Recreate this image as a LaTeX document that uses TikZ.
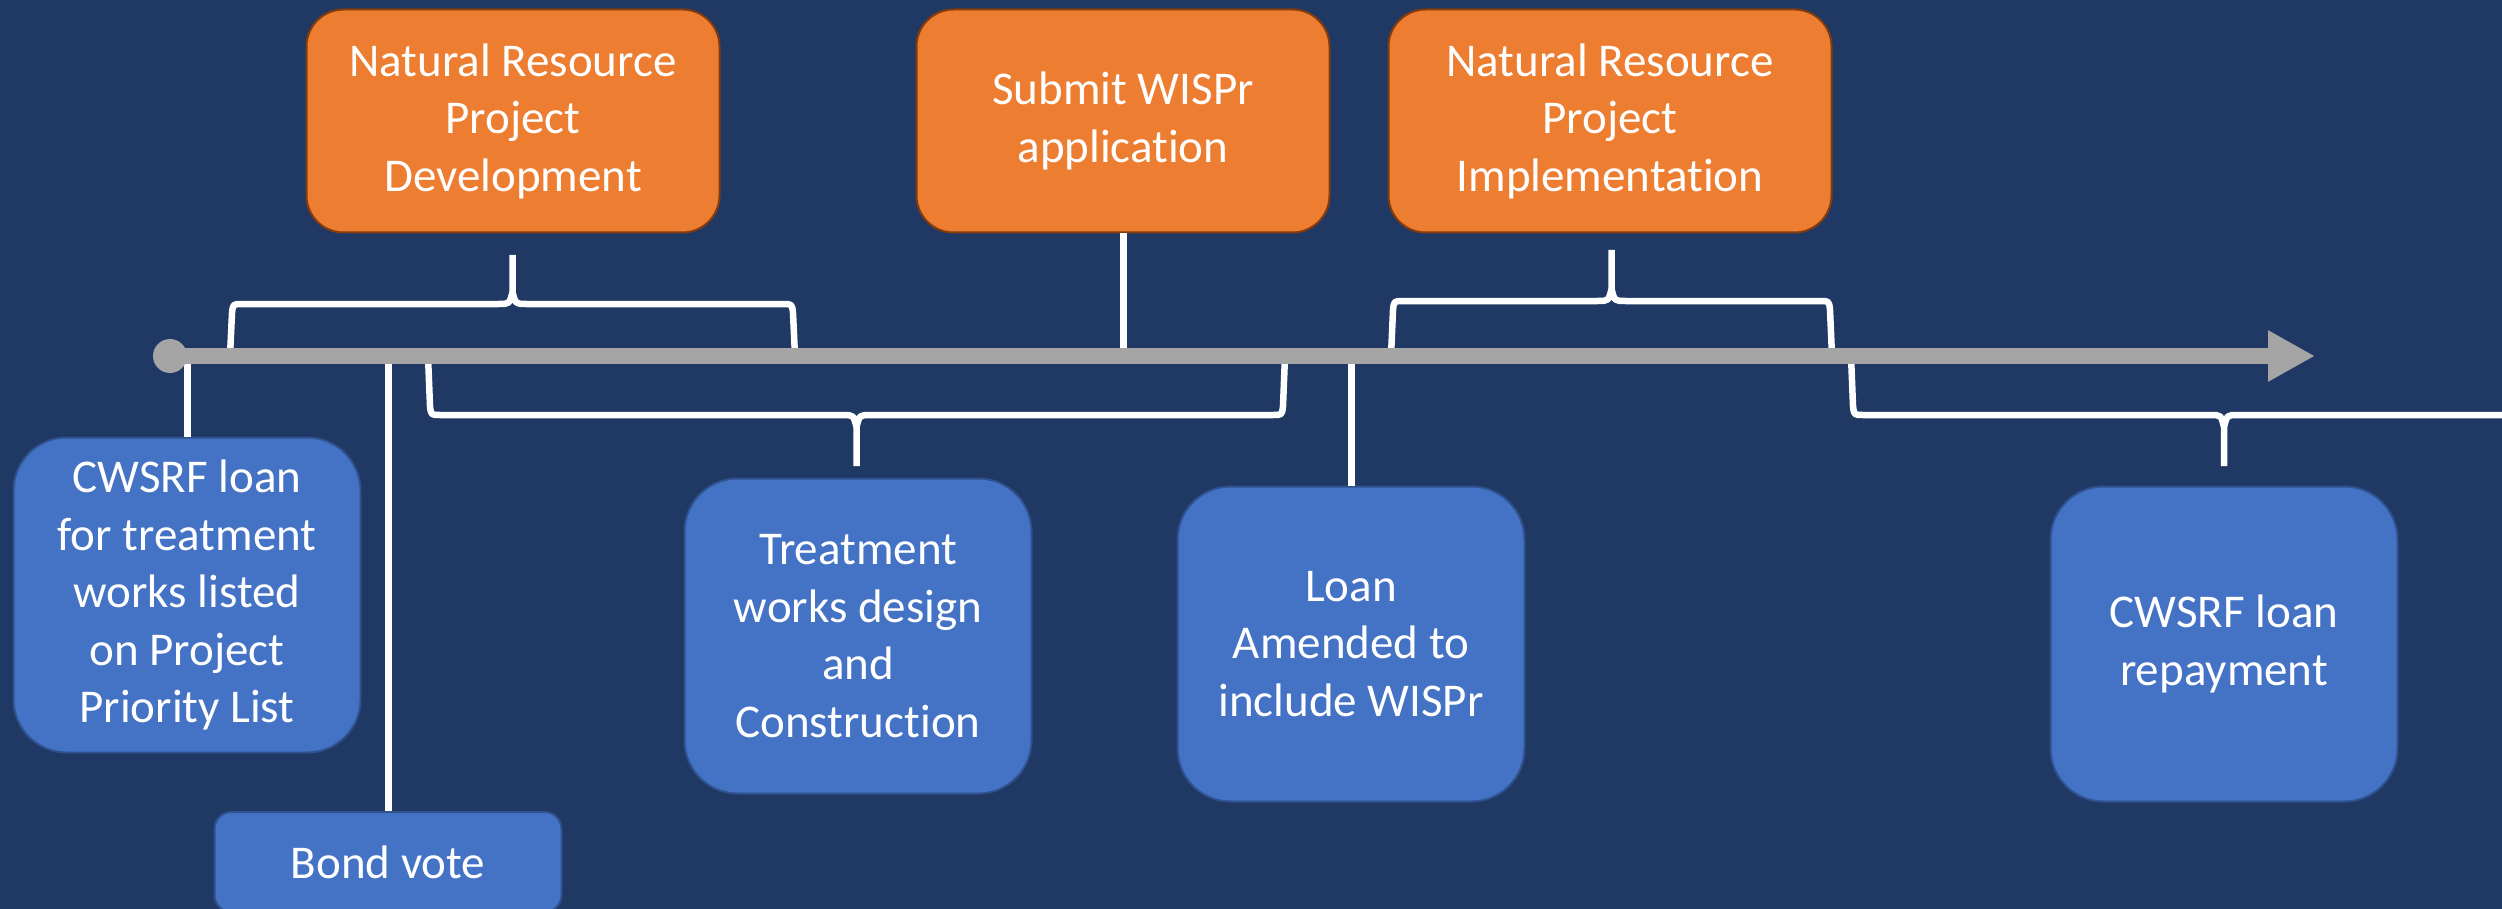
\documentclass[tikz,border=0pt]{standalone}
\usepackage{fontspec}
\setmainfont[Ligatures=NoCommon]{Carlito}
\usetikzlibrary{calc,arrows.meta}
\definecolor{navybg}{HTML}{203864}
\definecolor{railgray}{HTML}{A5A5A5}
\definecolor{phaseorange}{HTML}{ED7D31}
\definecolor{phaseedge}{HTML}{843C0C}
\definecolor{stepblue}{HTML}{4472C4}
\definecolor{stepedge}{HTML}{2F528F}
\tikzset{
	phase/.style={draw=phaseedge, line width=2pt, fill=phaseorange, text=white, rounded corners=37pt,
		minimum width=413pt, minimum height=223pt, inner sep=0pt, align=center, font=\fontsize{47}{57.5}\selectfont},
	event/.style={draw=stepedge, line width=2pt, fill=stepblue, text=white, rounded corners=53pt,
		minimum width=347pt, minimum height=315pt, inner sep=0pt, align=center, font=\fontsize{47}{57.5}\selectfont},
	link/.style={white, line width=7pt},
	brace line/.style={white, line width=6.5pt, line join=round},
}
\def\timebrace(#1:#2)(#3:#4:#5){%
	\pgfmathsetmacro\bmid{(#1+#2)/2}
	\pgfmathsetmacro\bdir{sign(#3-#4)}
	\draw[brace line] (#1,#3) -- ({#1+2},{#4+9*\bdir}) .. controls ({#1+3},#4) .. ({#1+12},#4)
		-- ({\bmid-14},#4) .. controls ({\bmid-3},#4) .. (\bmid,{#4-12*\bdir}) -- (\bmid,#5)
		(#2,#3) -- ({#2-2},{#4+9*\bdir}) .. controls ({#2-3},#4) .. ({#2-12},#4)
		-- ({\bmid+14},#4) .. controls ({\bmid+3},#4) .. (\bmid,{#4-12*\bdir});
}

\begin{document}
\begin{tikzpicture}[x=1pt, y=-1pt]
		%%%%% START %%%%%
		
		\path[use as bounding box, fill=navybg] (0,0) rectangle (2502,909);
		\clip (0,0) rectangle (2502,909);
		
		\coordinate (rail) at (0,356);
		
		% phases above the line
		\node[phase] (nrdev) at (513,121) {Natural Resource\\Project\\Development};
		\node[phase] (wispr) at (1123,121) {Submit WISPr\\application};
		\node[phase, minimum width=443pt] (nrimp) at (1610,121) {Natural Resource\\Project\\Implementation};
		
		% steps below the line
		\node[event] (cwsrf) at (187,595) {CWSRF loan\\for treatment\\works listed\\on Project\\Priority List};
		\node[event, minimum height=100pt, rounded corners=17pt] (bond) at (388,862) {Bond vote};
		\node[event] (treat) at (858,636) {Treatment\\works design\\and\\Construction};
		\node[event] (amend) at (1351,644) {Loan\\Amended to\\include WISPr};
		\node[event] (repay) at (2224,644) {CWSRF loan\\repayment};
		
		\draw[link] (cwsrf.north) -- (cwsrf.north |- rail);
		\draw[link] (bond.north) -- (bond.north |- rail);
		\draw[link] (wispr.south) -- (wispr.south |- rail);
		\draw[link] (amend.north) -- (amend.north |- rail);
		
		\timebrace(230:795)(356:304:255);
		\timebrace(1391:1832)(356:301:250);
		\timebrace(428:1285)(356:415:466);
		\timebrace(1851:2597)(356:415:466);
		
		% the time line
		\draw[railgray, line width=16pt, -{Triangle[length=47pt, width=48pt]}] (170,356) -- (2315,356);
		\fill[railgray] (170,356) circle (17pt);
		
		%%%%% END %%%%%
	\end{tikzpicture}
\end{document}
